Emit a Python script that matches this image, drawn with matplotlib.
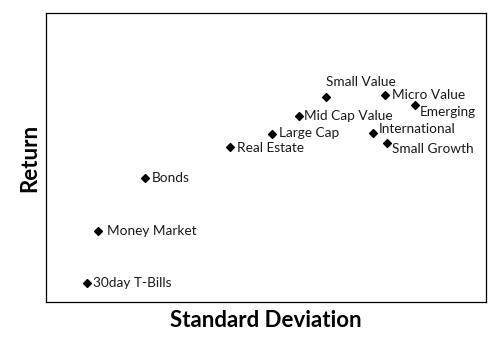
import matplotlib.pyplot as plt

plt.rcParams['font.family'] = ['Lato', 'DejaVu Sans']

# asset classes: standard deviation (%) vs return (%)
names = ['30day T-Bills', 'Money Market', 'Bonds', 'Real Estate', 'Large Cap',
         'Mid Cap Value', 'Small Value', 'Micro Value', 'Emerging',
         'International', 'Small Growth']
stdev = [2.05, 2.6, 4.95, 9.2, 11.3, 12.65, 14.0, 16.95, 18.45, 16.35, 17.05]
ret = [0.95, 3.55, 6.2, 7.75, 8.4, 9.3, 10.25, 10.35, 9.85, 8.45, 7.95]

# label offsets in pixels (dx, dy)
offsets = {
    '30day T-Bills': (6, 0),
    'Money Market': (9, 0),
    'Bonds': (7, 0),
    'Real Estate': (7, -1),
    'Large Cap': (7, 1),
    'Mid Cap Value': (5, 0),
    'Small Value': (0, 15),
    'Micro Value': (7, 0),
    'Emerging': (5, -7),
    'International': (6, 4),
    'Small Growth': (5, -6),
}

fig = plt.figure(figsize=(5.01, 3.5), dpi=100)
ax = fig.add_axes([46 / 501, 48 / 350, 440 / 501, 289 / 350])

ax.scatter(stdev, ret, marker='D', s=16, color='black', zorder=3)
for n, x, y in zip(names, stdev, ret):
    dx, dy = offsets[n]
    ax.annotate(n, (x, y), xytext=(dx, dy), textcoords='offset pixels',
                ha='left', va='center', fontsize=9.8, color='#1a1a1a')

ax.set_xlim(0, 22)
ax.set_ylim(0, 14.45)
ax.set_xticks([])
ax.set_yticks([])
for sp in ax.spines.values():
    sp.set_linewidth(0.9)
    sp.set_color('black')

ax.set_xlabel('Standard Deviation', fontsize=16, fontweight='bold', labelpad=6)
ax.set_ylabel('Return', fontsize=16, fontweight='bold', labelpad=4)

fig.savefig('out.png', dpi=100)
